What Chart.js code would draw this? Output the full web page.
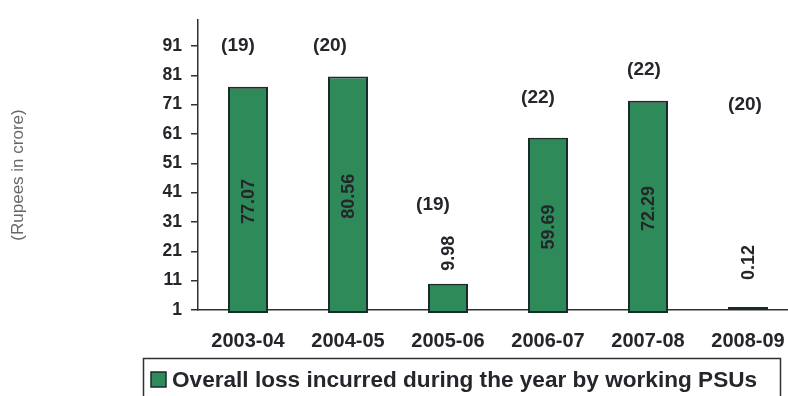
<!DOCTYPE html>
<html>
<head>
<meta charset="utf-8">
<script src="https://cdn.jsdelivr.net/npm/chart.js@4.4.1/dist/chart.umd.min.js"></script>
<style>
    html, body { margin: 0; padding: 0; background: #fff; overflow: hidden; }
    #wrap { position: relative; width: 810px; height: 396px; }
</style>
</head>
<body>
<div id="wrap"><canvas id="lossChart"></canvas></div>
<script>
// Overall loss of working PSUs (Rs crore), with number of PSUs per year
const years = ['2003-04', '2004-05', '2005-06', '2006-07', '2007-08', '2008-09'];
const overallLoss = [77.07, 80.56, 9.98, 59.69, 72.29, 0.12];
const psuCounts = [19, 20, 19, 22, 22, 20];
const yTicks = [1, 11, 21, 31, 41, 51, 61, 71, 81, 91];

const FONT = "'Liberation Sans', Arial, sans-serif";
const INK = '#25262c';
const BAR_GREEN = '#2e8a58';
const BAR_EDGE = '#1b2a2a';

// where the "(n)" counts sit over each year (value-axis units) and their nudge left/right
const countPlacement = {
    at: [91.2, 91.2, 37.0, 73.4, 82.8, 71.0],
    dx: [-10, -18, -15, -10, -4, -3]
};

// values written along each bar, counts above, axis caption and the framed legend
const annotations = {
    id: 'annotations',
    afterDatasetsDraw(chart) {
        const ctx = chart.ctx;
        const yScale = chart.scales.y;
        const baseline = chart.chartArea.bottom;
        const bars = chart.getDatasetMeta(0).data;

        ctx.save();
        ctx.fillStyle = INK;
        ctx.font = 'bold 18px ' + FONT;
        bars.forEach((bar, i) => {
            const text = overallLoss[i].toFixed(2);
            const w = ctx.measureText(text).width;
            const top = Math.min(bar.y, bar.base);
            const h = baseline - top;
            let cy;
            if (h > w + 20) {
                cy = top + h / 2 + 3;
            } else {
                const bottom = Math.min(top - 13, baseline - 30);
                cy = bottom - w / 2;
            }
            ctx.save();
            ctx.translate(bar.x, cy);
            ctx.rotate(-Math.PI / 2);
            ctx.textAlign = 'center';
            ctx.textBaseline = 'middle';
            ctx.fillText(text, 0, 1);
            ctx.restore();
        });

        ctx.font = 'bold 19px ' + FONT;
        ctx.textAlign = 'center';
        ctx.textBaseline = 'middle';
        bars.forEach((bar, i) => {
            const y = yScale.getPixelForValue(countPlacement.at[i]);
            ctx.fillText('(' + psuCounts[i] + ')', bar.x + countPlacement.dx[i], y);
        });
        ctx.restore();
    },
    afterDraw(chart) {
        const ctx = chart.ctx;
        ctx.save();

        // axis caption
        ctx.fillStyle = '#666666';
        ctx.font = '17px ' + FONT;
        ctx.translate(18, 175);
        ctx.rotate(-Math.PI / 2);
        ctx.textAlign = 'center';
        ctx.textBaseline = 'middle';
        ctx.fillText('(Rupees in crore)', 0, 0);
        ctx.setTransform(1, 0, 0, 1, 0, 0);

        // legend frame
        ctx.strokeStyle = '#303030';
        ctx.lineWidth = 1.5;
        ctx.strokeRect(143.5, 358.5, 637, 50);

        ctx.fillStyle = BAR_GREEN;
        ctx.fillRect(151, 372, 15, 15);
        ctx.strokeStyle = BAR_EDGE;
        ctx.lineWidth = 1.5;
        ctx.strokeRect(151, 372, 15, 15);

        ctx.fillStyle = INK;
        ctx.font = 'bold 22.6px ' + FONT;
        ctx.textAlign = 'left';
        ctx.textBaseline = 'middle';
        ctx.fillText(chart.data.datasets[0].label, 172, 381);
        ctx.restore();
    }
};

const ctx = document.getElementById('lossChart').getContext('2d');
const lossChart = new Chart(ctx, {
    type: 'bar',
    data: {
        labels: years,
        datasets: [{
            label: 'Overall loss incurred during the year by working PSUs',
            data: overallLoss,
            backgroundColor: BAR_GREEN,
            borderColor: BAR_EDGE,
            borderWidth: 2,
            borderSkipped: false,
            minBarLength: 3,
            clip: false,
            categoryPercentage: 1,
            barPercentage: 0.4
        }]
    },
    options: {
        responsive: true,
        maintainAspectRatio: false,
        animation: false,
        devicePixelRatio: 1,
        layout: { padding: { left: 0, top: 16, right: 12, bottom: 0 } },
        plugins: {
            legend: { display: false },
            tooltip: { enabled: false }
        },
        scales: {
            x: {
                grid: { display: false },
                border: { color: '#303030', width: 1.5 },
                ticks: {
                    color: INK,
                    font: { family: FONT, size: 20, weight: 'bold' },
                    padding: 11,
                    maxRotation: 0
                },
                afterFit(scale) { scale.height = 86; }
            },
            y: {
                min: 1,
                max: 100,
                grid: {
                    drawOnChartArea: false,
                    drawTicks: true,
                    tickLength: 7,
                    color: '#303030',
                    lineWidth: 1.5
                },
                border: { color: '#303030', width: 1.5 },
                ticks: {
                    color: INK,
                    font: { family: FONT, size: 17.5, weight: 'bold' },
                    padding: 9
                },
                afterBuildTicks(scale) {
                    scale.ticks = yTicks.map(v => ({ value: v }));
                },
                afterFit(scale) { scale.width = 198; }
            }
        }
    },
    plugins: [annotations]
});
</script>
</body>
</html>
